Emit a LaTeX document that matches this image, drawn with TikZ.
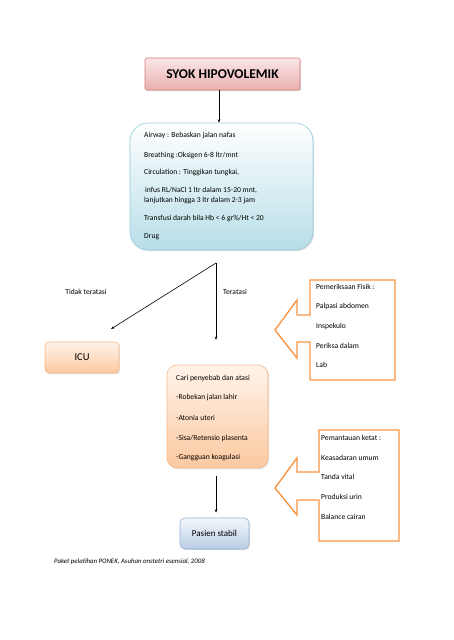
\documentclass[tikz,border=0pt]{standalone}
\usepackage{fontspec}
\setmainfont{Carlito}
\usetikzlibrary{shadows,arrows.meta}
\definecolor{titletop}{HTML}{FBE6E6}
\definecolor{titlebot}{HTML}{E8B0AF}
\definecolor{titleline}{HTML}{C0504D}
\definecolor{bluetop}{HTML}{FFFFFF}
\definecolor{bluebot}{HTML}{B7DEE8}
\definecolor{blueline}{HTML}{93CDDD}
\definecolor{orgtop}{HTML}{FFF3EA}
\definecolor{orgbot}{HTML}{FBC9A0}
\definecolor{orgline}{HTML}{F9B98A}
\definecolor{pastop}{HTML}{F4F7FB}
\definecolor{pasbot}{HTML}{B9CDE5}
\definecolor{pasline}{HTML}{95B3D7}
\definecolor{arroworange}{HTML}{F79646}
\begin{document}
\begin{tikzpicture}[x=1pt,y=-1pt,
  boxbase/.style={draw, line width=0.6pt, drop shadow={opacity=0.25,shadow xshift=1.2pt,shadow yshift=-1.2pt}},
  titlebox/.style={boxbase, draw=titleline!75, top color=titletop, bottom color=titlebot, rounded corners=1.5pt, font=\fontsize{13.5}{15}\selectfont\bfseries},
  bluebox/.style={boxbase, draw=blueline, top color=bluetop, bottom color=bluebot, rounded corners=18pt},
  orgbox/.style={boxbase, draw=orgline, top color=orgtop, bottom color=orgbot},
  pasbox/.style={boxbase, draw=pasline, top color=pastop, bottom color=pasbot, rounded corners=5pt},
  txt/.style={anchor=west, inner sep=0pt, font=\fontsize{7.6}{9}\selectfont, align=left},
  lbl/.style={inner sep=0pt, font=\fontsize{7.6}{9}\selectfont},
  conn/.style={line width=0.6pt, -{Stealth[length=3.5pt,width=2.5pt]}},
  blockarrow/.style={draw=arroworange, line width=1.4pt, fill=white, line join=miter}
]
\useasboundingbox[fill=white] (0,0) rectangle (453,640);

% Title
\node[titlebox, minimum width=155pt, minimum height=32pt] (title) at (222.5,74) {SYOK HIPOVOLEMIK};

% Blue box
\node[bluebox, minimum width=183pt, minimum height=127pt] (blue) at (221.5,186.5) {};
\node[txt] (b1) at (144,136) {Airway : Bebaskan jalan nafas};
\node[txt] (b2) at (144,156) {Breathing :Oksigen 6-8 ltr/mnt};
\node[txt] (b3) at (144,173) {Circulation : Tinggikan tungkai,};
\node[txt] (b4) at (145,190) {infus RL/NaCl 1 ltr dalam 15-20 mnt,};
\node[txt] (b5) at (144,201) {lanjutkan hingga 3 ltr dalam 2-3 jam};
\node[txt] (b6) at (144,219) {Transfusi darah bila Hb < 6 gr\%/Ht < 20};
\node[txt] (b7) at (144,237) {Drug};

\coordinate (tx) at (219,0);
\draw[conn] (title.south -| tx) -- (blue.north -| tx);

% Split
\coordinate (split) at (216,263);
\coordinate (icuend) at (111,329);
\coordinate (midend) at (216,340);
\draw[conn] (split) -- (icuend);
\draw[conn] (split) -- (midend);
\node[lbl] (tidak) at (86,292) {Tidak teratasi};
\node[lbl] (teratasi) at (235,292) {Teratasi};

% ICU
\node[orgbox, rounded corners=4pt, minimum width=74pt, minimum height=31pt, font=\fontsize{10.5}{12}\selectfont] (icu) at (82,357.5) {ICU};

% Middle orange box
\node[orgbox, rounded corners=10pt, minimum width=101pt, minimum height=103pt] (mid) at (217.5,416.5) {};
\node[txt] (m1) at (176,378) {Cari penyebab dan atasi};
\node[txt] (m2) at (176,398) {-Robekan jalan lahir};
\node[txt] (m3) at (176,418) {-Atonia uteri};
\node[txt] (m4) at (176,438) {-Sisa/Retensio plasenta};
\node[txt] (m5) at (176,458) {-Gangguan koagulasi};

% Pasien stabil
\node[pasbox, minimum width=69pt, minimum height=31pt, font=\fontsize{9}{11}\selectfont] (pas) at (214.5,533.5) {Pasien stabil};
\coordinate (px) at (216,0);
\draw[conn] ([yshift=-8pt]mid.south -| px) -- ([yshift=5pt]pas.north -| px);

% Block arrow 1
\draw[blockarrow] (310,280) -- (395,280) -- (395,380) -- (310,380) -- (310,342) -- (297,342) -- (297,358) -- (275,330) -- (297,300) -- (297,315) -- (310,315) -- cycle;
\node[txt] (p1) at (316,287) {Pemeriksaan Fisik :};
\node[txt] (p2) at (316,306) {Palpasi abdomen};
\node[txt] (p3) at (316,326) {Inspekulo};
\node[txt] (p4) at (316,346) {Periksa dalam};
\node[txt] (p5) at (316,365) {Lab};

% Block arrow 2
\draw[blockarrow] (319,430) -- (399,430) -- (399,541) -- (319,541) -- (319,500) -- (297,500) -- (297,515) -- (275,488) -- (297,458) -- (297,472) -- (319,472) -- cycle;
\node[txt] (q1) at (321,438) {Pemantauan ketat :};
\node[txt] (q2) at (321,458) {Keasadaran umum};
\node[txt] (q3) at (321,477) {Tanda vital};
\node[txt] (q4) at (321,497) {Produksi urin};
\node[txt] (q5) at (321,517) {Balance cairan};

% Footer
\node[txt, font=\fontsize{6.8}{8}\selectfont\itshape] (foot) at (54,562) {Paket pelatihan PONEK, Asuhan onstetri esensial, 2008};
\end{tikzpicture}
\end{document}
